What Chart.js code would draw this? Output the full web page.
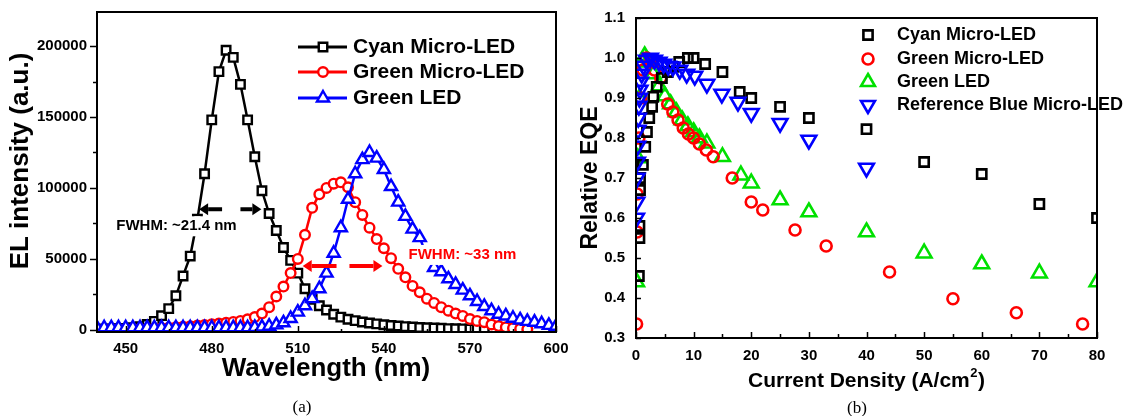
<!DOCTYPE html>
<html>
<head>
<meta charset="utf-8">
<script src="https://cdn.jsdelivr.net/npm/chart.js@4.4.1/dist/chart.umd.min.js"></script>
<style>
  html, body { margin: 0; padding: 0; background: #fff; }
  #wrap { position: relative; width: 1129px; height: 416px; overflow: hidden; }
  #chartA { position: absolute; left: 0; top: 0; }
  #chartB { position: absolute; left: 580px; top: 0; }
  .cap { position: absolute; width: 40px; text-align: center; line-height: 20px;
         font: 17px "Liberation Serif", "Times New Roman", serif; color: #000; }
</style>
</head>
<body>
<div id="wrap">
  <canvas id="chartA" width="580" height="416"></canvas>
  <canvas id="chartB" width="549" height="416"></canvas>
  <div class="cap" style="left:282px; top:397px">(a)</div>
  <div class="cap" style="left:837px; top:398px">(b)</div>
</div>
<script>
'use strict';

// ── Panel (a): EL spectra ─────────────────────────────────────────────────────
const wavelength = [
  440, 442.5, 445, 447.5, 450, 452.5, 455, 457.5, 460, 462.5, 465, 467.5, 470,
  472.5, 475, 477.5, 480, 482.5, 485, 487.5, 490, 492.5, 495, 497.5, 500,
  502.5, 505, 507.5, 510, 512.5, 515, 517.5, 520, 522.5, 525, 527.5, 530,
  532.5, 535, 537.5, 540, 542.5, 545, 547.5, 550, 552.5, 555, 557.5, 560,
  562.5, 565, 567.5, 570, 572.5, 575, 577.5, 580, 582.5, 585, 587.5, 590,
  592.5, 595, 597.5, 600,
];
const cyanEL = [
  500, 500, 600, 800, 1000, 1500, 2300, 3800, 6000, 10000, 15000, 24000, 38000,
  52000, 78000, 110000, 148000, 182000, 197000, 192000, 173000, 148000, 122000, 98000, 82000,
  70000, 58000, 49000, 40000, 29000, 21500, 17000, 14000, 11000, 9000, 7500, 6500,
  5500, 4800, 4200, 3600, 3100, 2700, 2300, 2000, 1700, 1500, 1300, 1100,
  900, 800, 700, 600, 500, 400, null, null, null, null, null, null,
  null, null, null, null,
];
const greenMicroEL = [
  300, 300, 400, 400, 500, 600, 700, 800, 1000, 1200, 1500, 1800, 2200,
  2600, 3000, 3500, 4000, 4500, 5000, 5600, 6300, 7500, 9000, 11500, 16000,
  23500, 30500, 40000, 50000, 67000, 86000, 95500, 100000, 103000, 104000, 100500, 90000,
  81000, 72000, 64000, 57500, 50500, 43000, 37000, 31000, 26500, 22000, 19000, 16000,
  13500, 11500, 9800, 7600, 6300, 5400, 3800, 2700, 1800, 1200, 700, 400,
  null, null, null, null,
];
const greenLedEL = [
  1500, 1500, 1500, 1500, 1500, 1500, 1500, 1500, 1500, 1500, 1500, 1500, 1500,
  1500, 1500, 1500, 1500, 1500, 1500, 1500, 1500, 1500, 1700, 2000, 2600,
  3500, 5000, 8000, 12500, 17000, 22000, 29000, 40000, 54000, 72000, 92000, 110000,
  120000, 125000, 121000, 113000, 101000, 90000, 80000, 71000, 65000, 52000, 44000, 41000,
  36000, 32000, 28000, 24000, 20000, 16500, 13500, 11000, 9800, 8200, 7000, 6000,
  5400, 4300, 3200, 2500,
];
const elTicks = [0, 50000, 100000, 150000, 200000];
const elMinor = [25000, 75000, 125000, 175000];
const wlTicks = [450, 480, 510, 540, 570, 600];
const wlMinor = [465, 495, 525, 555, 585];

// ── Panel (b): relative EQE vs current density ────────────────────────────────
const cyanJ = [0.5, 0.6, 0.6, 0.7, 0.7, 1.2, 1.6, 1.9, 2.3, 2.8, 3.0, 3.6, 4.5, 5.5, 6.5,
  7.5, 9, 10, 12, 15, 18, 20, 25, 30, 40, 50, 60, 70, 80];
const cyanEQE = [0.455, 0.55, 0.58, 0.67, 0.70, 0.733, 0.778, 0.815, 0.85, 0.878, 0.903, 0.928, 0.95, 0.965, 0.978,
  0.99, 1.0, 1.0, 0.985, 0.965, 0.915, 0.90, 0.878, 0.85, 0.822, 0.74, 0.71, 0.635, 0.60];
const greenMicroJ = [0.1, 0.2, 0.2, 0.5, 0.8, 1.2, 1.8, 2.5, 3.2, 4.3, 5.5, 6.4, 7.3, 8.2,
  9.1, 10, 11, 12.2, 13.4, 16.7, 20, 22, 27.6, 33, 44, 55, 66, 77.5];
const greenMicroEQE = [0.335, 0.565, 0.66, 0.80, 0.90, 0.97, 1.0, 0.99, 0.97, 0.95, 0.885, 0.865, 0.845, 0.825,
  0.81, 0.80, 0.785, 0.77, 0.753, 0.70, 0.64, 0.62, 0.57, 0.53, 0.465, 0.398, 0.363, 0.335];
const greenLedJ = [0.1, 0.3, 0.6, 1.0, 1.5, 2.2, 3, 4, 5, 6, 7, 8, 9, 10, 11, 12.3, 15,
  18.2, 20, 25, 30, 40, 50, 60, 70, 80];
const greenLedEQE = [0.44, 0.75, 0.9, 0.99, 1.005, 0.99, 0.96, 0.93, 0.905, 0.885, 0.865, 0.845, 0.83, 0.815, 0.80, 0.787, 0.753,
  0.707, 0.687, 0.645, 0.615, 0.565, 0.512, 0.485, 0.462, 0.44];
const refBlueJ = [0.1, 0.15, 0.2, 0.25, 0.3, 0.35, 0.4, 0.5, 0.6, 0.7, 0.8, 1.0, 1.3, 1.8, 2.5,
  3.2, 4, 4.8, 5.6, 6.4, 7.6, 8.8, 10.2, 12.3, 14.9, 17.7, 20, 25, 30, 40];
const refBlueEQE = [0.60, 0.64, 0.70, 0.74, 0.78, 0.82, 0.85, 0.88, 0.90, 0.92, 0.94, 0.96, 0.98, 0.995, 1.0,
  0.995, 0.99, 0.985, 0.98, 0.978, 0.97, 0.96, 0.955, 0.935, 0.91, 0.89, 0.862, 0.837, 0.795, 0.725];
const jTicks = [0, 10, 20, 30, 40, 50, 60, 70, 80];
const jMinor = [5, 15, 25, 35, 45, 55, 65, 75];
const eqeTicks = [0.3, 0.4, 0.5, 0.6, 0.7, 0.8, 0.9, 1.0, 1.1];

// ── Look ──────────────────────────────────────────────────────────────────────
const SANS = '"Liberation Sans", Arial, sans-serif';
const BLACK = '#000000';
const RED = '#ff0000';
const BLUE = '#0000ff';
const LIME = '#00e000';

Chart.defaults.font.family = SANS;
Chart.defaults.font.weight = 'bold';
Chart.defaults.font.size = 15;
Chart.defaults.color = '#000';

// ── Helpers ───────────────────────────────────────────────────────────────────
function toPoints(xs, ys) {
  return xs.map((x, i) => ({ x: x, y: ys[i] })).filter(p => p.y !== null);
}

function marker(ctx, style, x, y, radius, color, lw, rotation) {
  ctx.save();
  ctx.fillStyle = '#fff';
  ctx.strokeStyle = color;
  ctx.lineWidth = lw;
  Chart.helpers.drawPoint(ctx, { pointStyle: style, radius: radius, rotation: rotation || 0, borderWidth: lw }, x, y);
  ctx.restore();
}

function text(ctx, str, x, y, font, color, align, rotate) {
  ctx.save();
  ctx.font = font;
  ctx.fillStyle = color;
  ctx.textAlign = align || 'center';
  ctx.textBaseline = 'middle';
  ctx.translate(x, y);
  if (rotate) ctx.rotate(rotate);
  ctx.fillText(str, 0, 0);
  ctx.restore();
}

function arrow(ctx, x1, y, x2, color) {
  const dir = Math.sign(x2 - x1);
  const headLen = 9, headHalf = 6;
  ctx.save();
  ctx.strokeStyle = color;
  ctx.fillStyle = color;
  ctx.lineWidth = 4;
  ctx.beginPath();
  ctx.moveTo(x1, y);
  ctx.lineTo(x2 - dir * headLen, y);
  ctx.stroke();
  ctx.beginPath();
  ctx.moveTo(x2, y);
  ctx.lineTo(x2 - dir * headLen, y - headHalf);
  ctx.lineTo(x2 - dir * headLen, y + headHalf);
  ctx.closePath();
  ctx.fill();
  ctx.restore();
}

// ticks along the bottom (x) or left (y) edge; dir +1 = inward, -1 = outward
function tickMarks(ctx, chart, scale, values, len, dir) {
  const a = chart.chartArea;
  ctx.beginPath();
  values.forEach(v => {
    const p = Math.round(scale.getPixelForValue(v)) + 0.5;
    if (scale.isHorizontal()) {
      ctx.moveTo(p, a.bottom);
      ctx.lineTo(p, a.bottom - dir * len);
    } else {
      ctx.moveTo(a.left, p);
      ctx.lineTo(a.left + dir * len, p);
    }
  });
  ctx.stroke();
}

function frame(ctx, chart) {
  const a = chart.chartArea;
  ctx.strokeStyle = '#000';
  ctx.lineWidth = 2;
  ctx.strokeRect(a.left, a.top, a.right - a.left, a.bottom - a.top);
}

function baseScale(min, max, ticks, label, size, padding) {
  return {
    type: 'linear',
    min: min,
    max: max,
    grid: { display: false },
    border: { display: false },
    afterBuildTicks: s => { s.ticks = ticks.map(v => ({ value: v })); },
    afterFit: s => { if (s.isHorizontal()) s.height = size; else s.width = size; },
    ticks: { padding: padding, autoSkip: false, maxRotation: 0, callback: label },
  };
}

// ── Chart (a) decorations ─────────────────────────────────────────────────────
const decorA = {
  id: 'decorA',
  afterDatasetsDraw(chart) {
    const ctx = chart.ctx;
    const xs = chart.scales.x, ys = chart.scales.y;
    const lbl = 'bold 15px ' + SANS;

    // FWHM notes (white box hides the curve behind the text)
    ctx.fillStyle = '#fff';
    let bx = xs.getPixelForValue(467.7), by = ys.getPixelForValue(73000);
    ctx.fillRect(bx - 63, by - 10, 126, 20);
    text(ctx, 'FWHM: ~21.4 nm', bx, by, lbl, BLACK);
    let ay = ys.getPixelForValue(85000);
    arrow(ctx, xs.getPixelForValue(483.6), ay, xs.getPixelForValue(475.6), BLACK);
    arrow(ctx, xs.getPixelForValue(490.0), ay, xs.getPixelForValue(497.3), BLACK);

    ctx.fillStyle = '#fff';
    bx = xs.getPixelForValue(567.4); by = ys.getPixelForValue(52800);
    ctx.fillRect(bx - 57, by - 10, 114, 20);
    text(ctx, 'FWHM: ~33 nm', bx, by, lbl, RED);
    ay = ys.getPixelForValue(45000);
    arrow(ctx, xs.getPixelForValue(523.5), ay, xs.getPixelForValue(511.7), RED);
    arrow(ctx, xs.getPixelForValue(528.0), ay, xs.getPixelForValue(539.5), RED);

    // legend: line + marker
    const rows = [
      ['Cyan Micro-LED', BLACK, 'rect', 6, 47],
      ['Green Micro-LED', RED, 'circle', 4.8, 72],
      ['Green LED', BLUE, 'triangle', 7, 98],
    ];
    rows.forEach(r => {
      ctx.save();
      ctx.strokeStyle = r[1];
      ctx.lineWidth = 3;
      ctx.beginPath();
      ctx.moveTo(298, r[4]);
      ctx.lineTo(347, r[4]);
      ctx.stroke();
      ctx.restore();
      marker(ctx, r[2], 323, r[4], r[3], r[1], 2.4);
      text(ctx, r[0], 353, r[4], 'bold 21px ' + SANS, BLACK, 'left');
    });

    // frame and ticks
    ctx.save();
    frame(ctx, chart);
    ctx.lineWidth = 1.5;
    tickMarks(ctx, chart, xs, wlTicks, 6, 1);
    tickMarks(ctx, chart, xs, wlMinor, 3, 1);
    tickMarks(ctx, chart, ys, elTicks, 7, -1);
    tickMarks(ctx, chart, ys, elMinor, 4, -1);
    ctx.restore();

    // axis titles
    text(ctx, 'Wavelength (nm)', 326, 369, 'bold 26px ' + SANS, BLACK);
    text(ctx, 'EL intensity (a.u.)', 21, 161, 'bold 26px ' + SANS, BLACK, 'center', -Math.PI / 2);
  },
};

// ── Chart (b) decorations ─────────────────────────────────────────────────────
const decorB = {
  id: 'decorB',
  afterDatasetsDraw(chart) {
    const ctx = chart.ctx;
    const xs = chart.scales.x, ys = chart.scales.y;

    // legend: markers only
    const rows = [
      ['Cyan Micro-LED', BLACK, 'rect', 6.5, 0, 35],
      ['Green Micro-LED', RED, 'circle', 5.5, 0, 59],
      ['Green LED', LIME, 'triangle', 8, 0, 82],
      ['Reference Blue Micro-LED', BLUE, 'triangle', 8, 180, 105],
    ];
    rows.forEach(r => {
      marker(ctx, r[2], 288, r[5], r[3], r[1], 2.6, r[4]);
      text(ctx, r[0], 317, r[5], 'bold 18px ' + SANS, BLACK, 'left');
    });

    ctx.save();
    frame(ctx, chart);
    ctx.lineWidth = 1.5;
    tickMarks(ctx, chart, xs, jTicks, 6, 1);
    tickMarks(ctx, chart, xs, jMinor, 4, 1);
    tickMarks(ctx, chart, ys, eqeTicks, 5, 1);
    ctx.restore();

    // x title with superscript
    const main = 'Current Density (A/cm', sup = '2', tail = ')';
    const big = 'bold 21px ' + SANS, small = 'bold 13px ' + SANS;
    ctx.save();
    ctx.font = big;
    const w1 = ctx.measureText(main).width, w3 = ctx.measureText(tail).width;
    ctx.font = small;
    const w2 = ctx.measureText(sup).width;
    ctx.restore();
    let x0 = 286 - (w1 + w2 + w3) / 2;
    text(ctx, main, x0, 381, big, BLACK, 'left');
    text(ctx, sup, x0 + w1 + 0.5, 373, small, BLACK, 'left');
    text(ctx, tail, x0 + w1 + w2 + 1, 381, big, BLACK, 'left');

    text(ctx, 'Relative EQE', 11, 178, 'bold 23px ' + SANS, BLACK, 'center', -Math.PI / 2);
  },
};

// ── Build chart (a) ───────────────────────────────────────────────────────────
function lineSet(label, ys, color, style, radius, order) {
  return {
    label: label,
    data: toPoints(wavelength, ys),
    borderColor: color,
    borderWidth: 2.5,
    pointStyle: style,
    pointRadius: radius,
    pointBorderWidth: 2.4,
    pointBorderColor: color,
    pointBackgroundColor: '#fff',
    tension: 0,
    clip: 0,
    order: order,
  };
}

new Chart(document.getElementById('chartA'), {
  type: 'line',
  data: {
    datasets: [
      lineSet('Cyan Micro-LED', cyanEL, BLACK, 'rect', 6, 2),
      lineSet('Green Micro-LED', greenMicroEL, RED, 'circle', 4.8, 1),
      lineSet('Green LED', greenLedEL, BLUE, 'triangle', 7, 0),
    ],
  },
  options: {
    responsive: false,
    animation: false,
    events: [],
    layout: { padding: { left: 0, top: 12, right: 24, bottom: 0 } },
    plugins: { legend: { display: false }, tooltip: { enabled: false } },
    scales: {
      x: baseScale(440, 600, wlTicks, v => String(v), 84, 0),
      y: baseScale(-1500, 224000, elTicks, v => String(v), 97, 2),
    },
  },
  plugins: [decorA],
});

// ── Build chart (b) ───────────────────────────────────────────────────────────
function dotSet(label, xs, ys, color, style, radius, rotation, order) {
  return {
    label: label,
    data: toPoints(xs, ys),
    showLine: false,
    pointStyle: style,
    pointRadius: radius,
    pointRotation: rotation,
    pointBorderWidth: 2.6,
    pointBorderColor: color,
    pointBackgroundColor: 'rgba(255,255,255,0)',
    clip: 0,
    order: order,
  };
}

new Chart(document.getElementById('chartB'), {
  type: 'scatter',
  data: {
    datasets: [
      dotSet('Cyan Micro-LED', cyanJ, cyanEQE, BLACK, 'rect', 6.5, 0, 1),
      dotSet('Green Micro-LED', greenMicroJ, greenMicroEQE, RED, 'circle', 5.5, 0, 2),
      dotSet('Green LED', greenLedJ, greenLedEQE, LIME, 'triangle', 8.5, 0, 3),
      dotSet('Reference Blue Micro-LED', refBlueJ, refBlueEQE, BLUE, 'triangle', 8.5, 180, 0),
    ],
  },
  options: {
    responsive: false,
    animation: false,
    events: [],
    layout: { padding: { left: 0, top: 18, right: 32, bottom: 0 } },
    plugins: { legend: { display: false }, tooltip: { enabled: false } },
    scales: {
      x: baseScale(0, 80, jTicks, v => String(v), 78, 1),
      y: baseScale(0.3, 1.1, eqeTicks, v => Number(v).toFixed(1), 56, 3),
    },
  },
  plugins: [decorB],
});
</script>
</body>
</html>
